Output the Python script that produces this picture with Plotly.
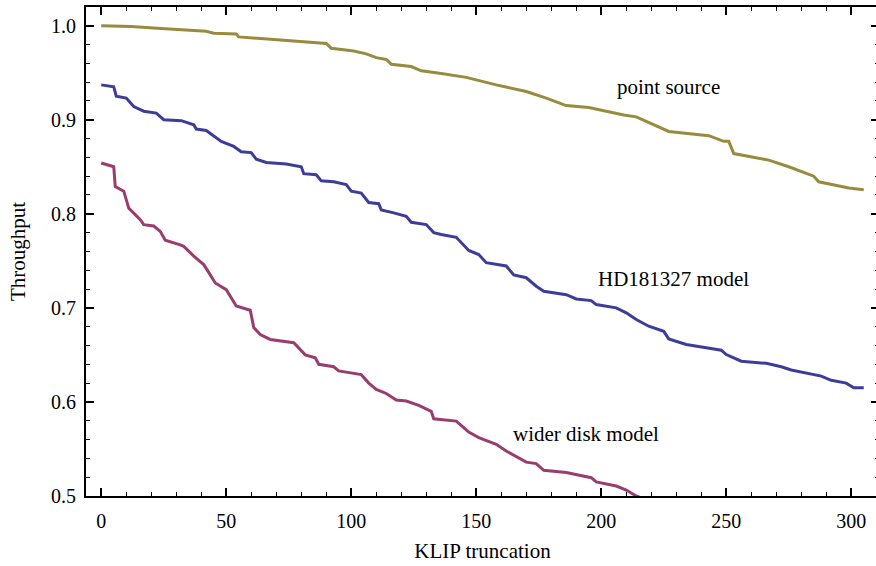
import plotly.graph_objects as go

# KLIP truncation (x) and throughput (y)
point_x = [0, 12, 24, 42, 45, 54, 55, 69, 80, 90, 92, 101, 106, 110, 114, 116, 124, 128, 136,
           146, 158, 170, 178, 186, 195, 209, 214, 227, 243, 249, 251, 253, 267, 275, 285, 287,
           299, 305]
point_y = [1.000, 0.999, 0.997, 0.994, 0.992, 0.991, 0.988, 0.985, 0.983, 0.981, 0.976, 0.973,
           0.970, 0.966, 0.964, 0.959, 0.9565, 0.952, 0.949, 0.945, 0.937, 0.930, 0.923, 0.915,
           0.913, 0.905, 0.903, 0.8875, 0.883, 0.877, 0.877, 0.864, 0.857, 0.850, 0.840, 0.834,
           0.8274, 0.8256]

hd_x = [0, 5, 6, 10, 13, 17, 22, 25, 32, 37, 38, 42, 48, 53, 56, 60, 62, 66, 74, 80, 81, 86,
        88, 93, 98, 100, 104, 107, 111, 112, 117, 122, 124, 130, 133, 136, 142, 145, 147, 151,
        154, 162, 165, 170, 174, 177, 186, 190, 196, 198, 206, 210, 214, 219, 225, 227, 234,
        242, 248, 250, 256, 266, 272, 276, 288, 292, 298, 301, 305]
hd_y = [0.937, 0.935, 0.925, 0.923, 0.914, 0.909, 0.907, 0.900, 0.899, 0.8946, 0.890, 0.8886,
        0.877, 0.8716, 0.866, 0.865, 0.858, 0.8546, 0.853, 0.850, 0.8426, 0.8415, 0.835, 0.834,
        0.831, 0.824, 0.822, 0.812, 0.8107, 0.804, 0.801, 0.7973, 0.791, 0.7885, 0.780, 0.778,
        0.775, 0.767, 0.761, 0.7566, 0.748, 0.7445, 0.735, 0.732, 0.723, 0.7176, 0.714, 0.7095,
        0.7077, 0.7035, 0.700, 0.6947, 0.6876, 0.6805, 0.675, 0.667, 0.661, 0.6575, 0.655,
        0.6504, 0.6433, 0.641, 0.6374, 0.634, 0.6274, 0.623, 0.620, 0.615, 0.615]

wide_x = [0, 5, 5.6, 9, 11, 13, 15.6, 17, 21, 23.6, 25.6, 31.6, 33, 37, 41, 43.6, 45.6, 50, 54,
          59.6, 61, 63.6, 67.6, 77, 81.6, 85.6, 87, 93, 95, 104, 107, 110, 114, 118, 122, 127,
          132, 133, 136, 142, 145, 147, 151, 158, 162, 170, 174, 177, 186, 196, 198, 206, 210,
          214, 216]
wide_y = [0.854, 0.850, 0.829, 0.824, 0.806, 0.801, 0.7937, 0.7884, 0.787, 0.7813, 0.772, 0.767,
          0.7654, 0.755, 0.746, 0.735, 0.7265, 0.7194, 0.702, 0.6975, 0.679, 0.6717, 0.6664,
          0.663, 0.650, 0.647, 0.640, 0.6374, 0.633, 0.629, 0.620, 0.6133, 0.609, 0.602, 0.601,
          0.5963, 0.590, 0.582, 0.5814, 0.5796, 0.5726, 0.568, 0.562, 0.555, 0.5478, 0.536,
          0.5344, 0.5273, 0.525, 0.5195, 0.515, 0.5106, 0.5064, 0.500, 0.498]

labels = ["point source", "HD181327 model", "wider disk model"]
label_x = [227, 229, 194]
label_y = [0.935, 0.731, 0.5655]

colors = ["#998b3d", "#3d3d99", "#993d71"]
FONT = "Liberation Serif"

fig = go.Figure()
for xs, ys, c, name in [(point_x, point_y, colors[0], labels[0]),
                        (hd_x, hd_y, colors[1], labels[1]),
                        (wide_x, wide_y, colors[2], labels[2])]:
    fig.add_trace(go.Scatter(x=xs, y=ys, mode="lines", name=name,
                             line=dict(color=c, width=3), showlegend=False))

for t, x, y in zip(labels, label_x, label_y):
    fig.add_annotation(x=x, y=y, text=t, showarrow=False,
                       font=dict(family=FONT, size=21, color="black"),
                       xanchor="center", yanchor="middle")

axis_common = dict(showline=True, linecolor="black", linewidth=2, mirror="ticks",
                   ticks="inside", ticklen=8, tickwidth=1.6, tickcolor="black",
                   showgrid=False, zeroline=False,
                   tickfont=dict(family=FONT, size=20, color="black"))

fig.update_xaxes(range=[-6.1, 311.1], tick0=0, dtick=50,
                 minor=dict(dtick=10, ticks="inside", ticklen=4, tickwidth=1.3, tickcolor="black"),
                 title=dict(text="KLIP truncation", font=dict(family=FONT, size=21, color="black"),
                            standoff=12),
                 ticklabelstandoff=6,
                 **axis_common)
fig.update_yaxes(range=[0.5, 1.0198], tick0=0.5, dtick=0.1, tickformat=".1f",
                 minor=dict(dtick=0.02, ticks="inside", ticklen=4, tickwidth=1.3, tickcolor="black"),
                 title=dict(text="Throughput", font=dict(family=FONT, size=21, color="black"),
                            standoff=20),
                 ticklabelstandoff=4,
                 **axis_common)

# plot frame extends just past the right edge of the window, as in the reference
fig.update_layout(width=879, height=566, plot_bgcolor="white", paper_bgcolor="white",
                  margin=dict(l=86, r=0, t=7, b=70, autoexpand=False))

fig.write_html("out.html", config={"displayModeBar": False},
               post_script="document.body.style.margin='0';document.body.style.overflow='hidden';")
